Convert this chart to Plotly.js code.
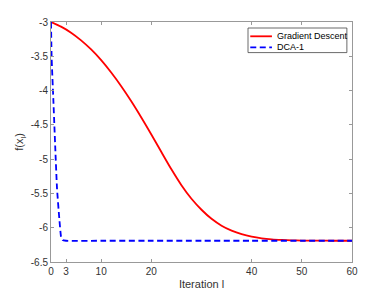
<!DOCTYPE html>
<html>
<head>
<meta charset="utf-8">
<script src="https://cdn.plot.ly/plotly-3.0.1.min.js"></script>
<style>html,body{margin:0;padding:0;background:#fff}#chart{width:389px;height:292px}</style>
</head>
<body>
<div id="chart"></div>
<script>
const gdIter = [0,2,4,6,8,10,12,14,16,18,20,22,24,26,28,30,32,34,36,38,40,42,44,46,48,50,52,54,56,58,60];
const gdValues = [-3.000,-3.068,-3.156,-3.268,-3.400,-3.556,-3.736,-3.936,-4.156,-4.392,-4.640,-4.896,-5.148,-5.380,-5.578,-5.738,-5.870,-5.970,-6.042,-6.094,-6.130,-6.154,-6.169,-6.178,-6.184,-6.187,-6.1885,-6.189,-6.19,-6.19,-6.19];
const dcaIter = [0,0.13,0.46,0.86,1.2,1.66,2.0,2.3,3,10,20,30,40,50,60];
const dcaValues = [-3.00,-3.53,-4.12,-4.85,-5.43,-5.87,-6.13,-6.18,-6.19,-6.19,-6.19,-6.19,-6.19,-6.19,-6.19];
const xTicks = [0,3,10,20,40,50,60];
const xTickText = ['0','3','10','20','40','50','60'];
const yTicks = [-3,-3.5,-4,-4.5,-5,-5.5,-6,-6.5];
const yTickText = ['-3','-3.5','-4','-4.5','-5','-5.5','-6','-6.5'];
const seriesNames = ['Gradient Descent', 'DCA-1'];
const seriesColors = ['#ff0000', '#0000ff'];
const seriesDash = ['solid', '6px,3.5px'];

const FONT = 'Liberation Sans, Arial, sans-serif';
const traces = [
  {x: gdIter, y: gdValues, name: seriesNames[0], mode: 'lines', line: {color: seriesColors[0], width: 1.8, dash: seriesDash[0], shape: 'spline', smoothing: 0.8}},
  {x: dcaIter, y: dcaValues, name: seriesNames[1], mode: 'lines', line: {color: seriesColors[1], width: 1.8, dash: seriesDash[1], shape: 'spline', smoothing: 0.4}}
];
const axisCommon = {
  showline: true, mirror: 'ticks', linecolor: '#999999', linewidth: 1,
  ticks: 'inside', ticklen: 3, tickcolor: '#999999', tickwidth: 1,
  showgrid: false, zeroline: false,
  tickfont: {family: FONT, size: 10, color: '#333333'}
};
// custom compact legend (MATLAB style)
const legBox = {x0: 0.6545, x1: 0.983, y0: 0.8725, y1: 0.975};
const legRowsY = [0.9404, 0.8946];
const legLineX = [0.662, 0.734];
const legTextX = 0.743;
const shapes = [
  {type: 'rect', xref: 'paper', yref: 'paper', x0: legBox.x0, x1: legBox.x1, y0: legBox.y0, y1: legBox.y1,
   fillcolor: '#ffffff', line: {color: '#444444', width: 0.8}, layer: 'above'}
];
const annotations = [];
seriesNames.forEach((n, i) => {
  shapes.push({type: 'line', xref: 'paper', yref: 'paper', x0: legLineX[0], x1: legLineX[1], y0: legRowsY[i], y1: legRowsY[i],
    line: {color: seriesColors[i], width: 1.8, dash: seriesDash[i]}, layer: 'above'});
  annotations.push({xref: 'paper', yref: 'paper', x: legTextX, y: legRowsY[i], xanchor: 'left', yanchor: 'middle',
    text: n, showarrow: false, font: {family: FONT, size: 9, color: '#000000'}});
});
const layout = {
  width: 389, height: 292,
  margin: {l: 50.7, r: 37.3, t: 21.7, b: 30.3},
  paper_bgcolor: '#ffffff', plot_bgcolor: '#ffffff',
  showlegend: false,
  shapes: shapes, annotations: annotations,
  xaxis: Object.assign({}, axisCommon, {range: [0, 60], tickvals: xTicks, ticktext: xTickText,
    title: {text: 'Iteration l', font: {family: FONT, size: 11, color: '#333333'}, standoff: 4}}),
  yaxis: Object.assign({}, axisCommon, {range: [-6.5, -3], tickvals: yTicks, ticktext: yTickText,
    title: {text: 'f(x<sub>l</sub>)', font: {family: FONT, size: 11, color: '#333333'}, standoff: 4}})
};
Plotly.newPlot('chart', traces, layout, {displayModeBar: false, staticPlot: true});
</script>
</body>
</html>
